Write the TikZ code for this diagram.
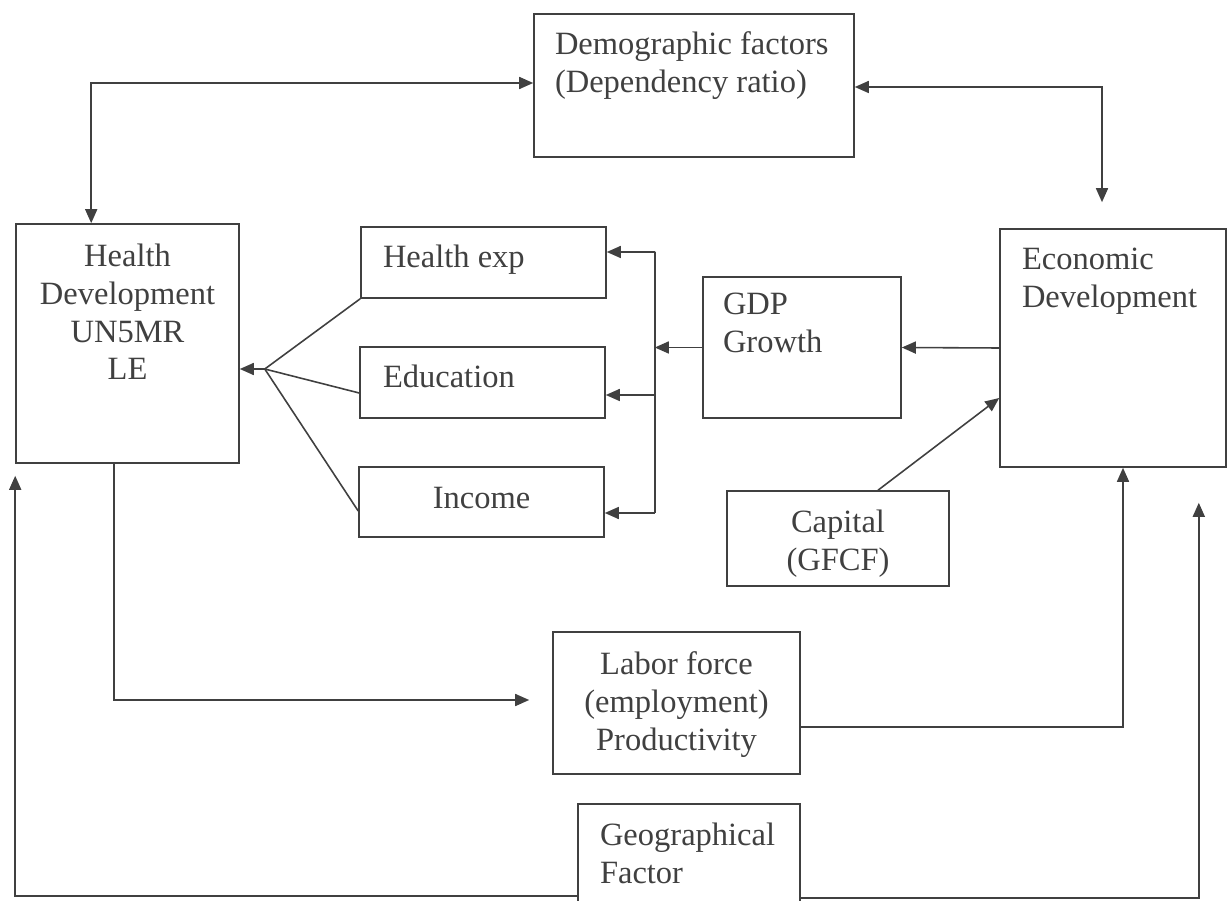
\documentclass[tikz,border=0pt]{standalone}
\usepackage{fontspec}
\setmainfont{Liberation Serif}
\usetikzlibrary{arrows.meta}

\begin{document}
\begin{tikzpicture}[>={Triangle[length=0.28cm,width=0.24cm]}, color=black!75, line width=0.9pt,
    box/.style={draw, rectangle, inner sep=0pt},
    txt/.style={inner sep=0pt, font=\fontsize{18.5}{21.5}\selectfont}]
    \useasboundingbox (0,0) rectangle (24.62,-18.02);
    \clip (0,0) rectangle (24.62,-18.02);

    % --- Kaesten ---
    \node[box, minimum width=6.40cm, minimum height=2.86cm,
        label={[txt, align=left, anchor=north west, xshift=0.42cm, yshift=-0.36cm]north west:Demographic factors\\(Dependency ratio)}] (demo) at (13.88,-1.71) {};
    \node[box, minimum width=4.46cm, minimum height=4.78cm,
        label={[txt, align=center, anchor=north, yshift=-0.40cm]north:Health\\Development\\UN5MR\\LE}] (health) at (2.55,-6.87) {};
    \node[box, minimum width=4.90cm, minimum height=1.42cm,
        label={[txt, anchor=north west, xshift=0.44cm, yshift=-0.36cm]north west:Health exp}] (hexp) at (9.67,-5.25) {};
    \node[box, minimum width=4.90cm, minimum height=1.42cm,
        label={[txt, anchor=north west, xshift=0.46cm, yshift=-0.36cm]north west:Education}] (edu) at (9.65,-7.65) {};
    \node[box, minimum width=4.90cm, minimum height=1.40cm,
        label={[txt, anchor=north, yshift=-0.40cm]north:Income}] (inc) at (9.63,-10.04) {};
    \node[box, minimum width=3.96cm, minimum height=2.82cm,
        label={[txt, align=left, anchor=north west, xshift=0.40cm, yshift=-0.32cm]north west:GDP\\Growth}] (gdp) at (16.04,-6.95) {};
    \node[box, minimum width=4.52cm, minimum height=4.76cm,
        label={[txt, align=left, anchor=north west, xshift=0.44cm, yshift=-0.38cm]north west:Economic\\Development}] (econ) at (22.26,-6.96) {};
    \node[box, minimum width=4.44cm, minimum height=1.90cm,
        label={[txt, align=center, anchor=north, yshift=-0.38cm]north:Capital\\(GFCF)}] (cap) at (16.76,-10.77) {};
    \node[box, minimum width=4.94cm, minimum height=2.84cm,
        label={[txt, align=center, anchor=north, yshift=-0.40cm]north:Labor force\\(employment)\\Productivity}] (labor) at (13.53,-14.06) {};
    \node[box, minimum width=4.44cm, minimum height=2.52cm,
        label={[txt, align=left, anchor=north west, xshift=0.44cm, yshift=-0.38cm]north west:Geographical\\Factor}] (geo) at (13.78,-17.34) {};

    % --- Hilfspunkte ---
    \coordinate (econtop) at ([xshift=-0.22cm,yshift=0.52cm]econ.north);
    \coordinate (fan) at ([xshift=0.50cm,yshift=-0.51cm]health.east);
    \coordinate (bustop) at ([xshift=0.96cm,yshift=0.21cm]hexp.east);
    \coordinate (busbot) at ([xshift=1.00cm,yshift=-0.22cm]inc.east);
    \coordinate (eduin) at ([yshift=-0.25cm]edu.east);
    \coordinate (laborin) at ([xshift=-0.46cm,yshift=0.06cm]labor.west);
    \coordinate (healthin) at ([yshift=-0.24cm]health.south west);
    \coordinate (econin) at ([xshift=-0.56cm,yshift=-0.70cm]econ.south east);

    % --- oben: Demographie ---
    \draw[<->] ([yshift=0.05cm]demo.west) -| ([xshift=1.52cm]health.north west);
    \draw[<->] ([yshift=-0.03cm]demo.east) -| (econtop);

    % --- Mitte: Faecher und Sammelschiene ---
    \draw[->] (fan) -- (fan -| health.east);
    \draw (fan) -- (hexp.south west);
    \draw (fan) -- ([yshift=-0.21cm]edu.west);
    \draw (fan) -- ([yshift=-0.18cm]inc.west);
    \draw (bustop) -- (busbot |- bustop) -- (busbot);
    \draw[->] (bustop) -- (bustop -| hexp.east);
    \draw[->] (eduin -| busbot) -- (eduin);
    \draw[->] (busbot) -- (busbot -| inc.east);
    \draw[->] (gdp.west) -- (gdp.west -| busbot);
    \draw[->] (econ.west) -- (gdp.east);
    \draw[->] ([xshift=0.80cm]cap.north) -- ([yshift=-1.00cm]econ.west);

    % --- unten: Arbeit und Geographie ---
    \draw[->] ([xshift=-0.27cm]health.south) |- (laborin);
    \draw[->] ([yshift=-0.48cm]labor.east) -| ([xshift=0.20cm]econ.south);
    \draw[->] ([yshift=-0.58cm]geo.west) -| (healthin);
    \draw[->] ([yshift=-0.62cm]geo.east) -| (econin);
\end{tikzpicture}
\end{document}
